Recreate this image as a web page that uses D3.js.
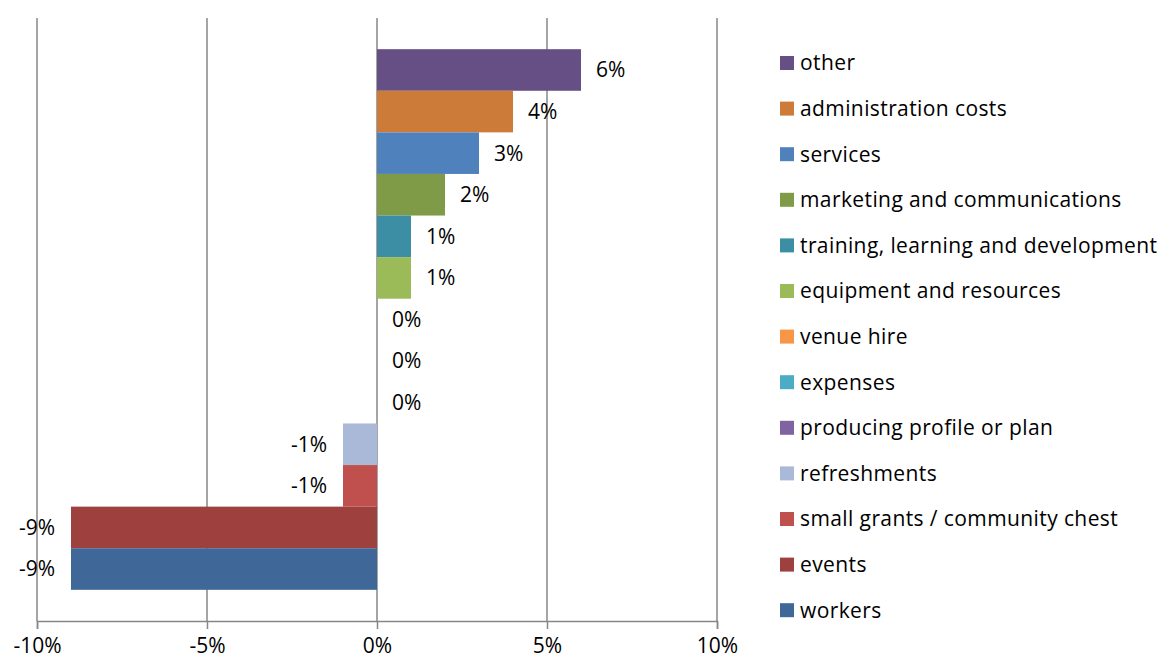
<!DOCTYPE html>
<html>
<head>
<meta charset="utf-8">
<script src="https://cdn.jsdelivr.net/npm/d3@7"></script>
<style>
  body { margin: 0; background: #fff; }
  text { font-family: "Open Sans", "Noto Sans", sans-serif; fill: #000; }
</style>
</head>
<body>
<svg id="chart" width="1163" height="661"></svg>
<script>
// categories listed top to bottom, as they appear in the chart
const categories = [
    'other', 'administration costs', 'services', 'marketing and communications',
    'training, learning and development', 'equipment and resources', 'venue hire',
    'expenses', 'producing profile or plan', 'refreshments',
    'small grants / community chest', 'events', 'workers'
];
const values = [6, 4, 3, 2, 1, 1, 0, 0, 0, -1, -1, -9, -9];
const colors = [
    '#664f85', '#cc7b38', '#4f81bd', '#7f9b48', '#3b8ea3', '#9bbb59', '#f79646',
    '#4bacc6', '#8064a2', '#aab9d7', '#c0504d', '#9e413e', '#3f6797'
];
const xTicks = [-10, -5, 0, 5, 10];

const svg = d3.select('#chart');

const plot = {left: 37, right: 717, top: 18, bottom: 621};
const fontSize = '21px';

const x = d3.scaleLinear().domain([-10, 10]).range([plot.left, plot.right]);
const y = d3.scaleBand()
    .domain(categories)
    .range([plot.top, plot.bottom])
    .paddingInner(0)
    .paddingOuter(0.75);

// vertical gridlines
svg.append('g')
    .selectAll('line')
    .data(xTicks)
    .join('line')
        .attr('x1', d => x(d))
        .attr('x2', d => x(d))
        .attr('y1', plot.top)
        .attr('y2', plot.bottom)
        .attr('stroke', '#878787')
        .attr('stroke-width', 1.5);

// bars
svg.append('g')
    .selectAll('rect')
    .data(categories)
    .join('rect')
        .attr('x', (d, i) => Math.min(x(0), x(values[i])))
        .attr('y', d => y(d))
        .attr('width', (d, i) => Math.abs(x(values[i]) - x(0)))
        .attr('height', y.bandwidth())
        .attr('fill', (d, i) => colors[i]);

// x axis
const xAxis = d3.axisBottom(x)
    .tickValues(xTicks)
    .tickSize(8)
    .tickFormat(d => d + '%');

const ax = svg.append('g')
    .attr('transform', `translate(0,${plot.bottom})`)
    .call(xAxis);
ax.select('.domain').attr('stroke', '#878787').attr('stroke-width', 1.5);
ax.selectAll('.tick line').attr('stroke', '#878787').attr('stroke-width', 1.5);
ax.selectAll('.tick text')
    .attr('y', 32)
    .attr('dy', 0)
    .style('font-size', fontSize)
    .style('font-family', '"Open Sans", sans-serif')
    .attr('fill', '#000');

// data labels
svg.append('g')
    .selectAll('text')
    .data(categories)
    .join('text')
        .attr('x', (d, i) => values[i] < 0 ? x(values[i]) - 16 : x(values[i]) + 15)
        .attr('y', d => y(d) + y.bandwidth() / 2)
        .attr('dy', '0.35em')
        .attr('text-anchor', (d, i) => values[i] < 0 ? 'end' : 'start')
        .style('font-size', fontSize)
        .text((d, i) => values[i] + '%');

// legend
const legendTop = 63;
const legendStep = 45.6;
const legend = svg.append('g')
    .selectAll('g')
    .data(categories)
    .join('g')
        .attr('transform', (d, i) => `translate(780,${legendTop + i * legendStep})`);

legend.append('rect')
    .attr('x', 0)
    .attr('y', -7)
    .attr('width', 14)
    .attr('height', 14)
    .attr('fill', (d, i) => colors[i]);

legend.append('text')
    .attr('x', 20)
    .attr('dy', '0.35em')
    .style('font-size', fontSize)
    .style('letter-spacing', '0.4px')
    .text(d => d);
</script>
</body>
</html>
